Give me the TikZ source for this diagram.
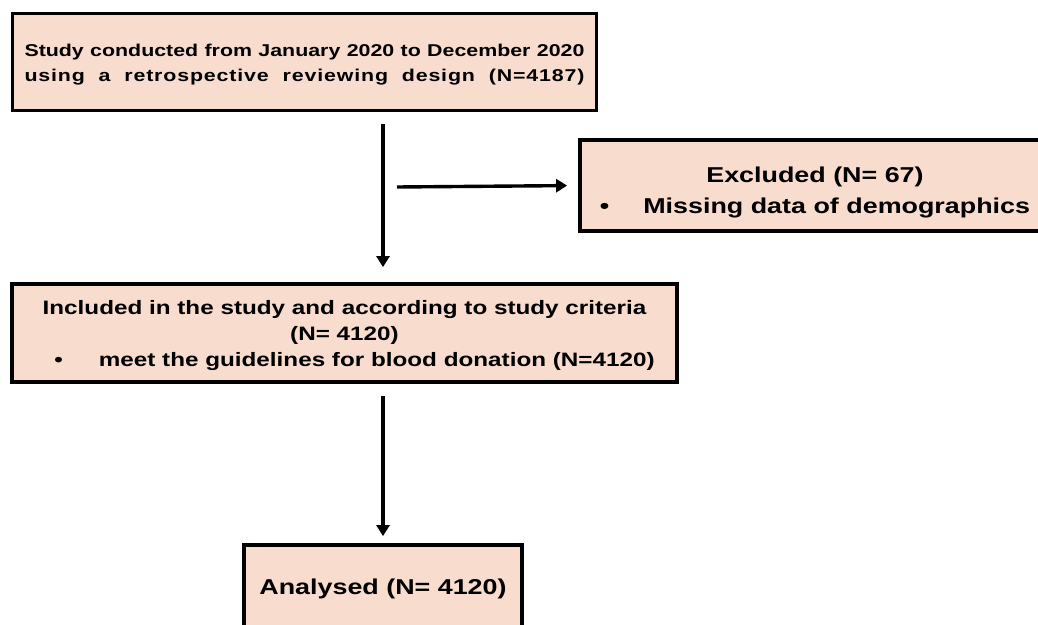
\documentclass[tikz,border=0pt]{standalone}
\usepackage{fontspec}
\setmainfont{Liberation Sans}[FakeStretch=1.25]
\usetikzlibrary{arrows.meta}
\definecolor{boxpeach}{RGB}{248,221,207}
% one line spread to the full width of the top box
\newcommand{\fullline}[1]{\makebox[560pt][s]{\spaceskip=0.28em plus 1fil\relax #1}}

\begin{document}
\begin{tikzpicture}[
    x=1pt, y=-1pt,
    font=\bfseries,
    >= {Triangle[length=11pt, width=13pt]},
    stagebox/.style={draw=black, fill=boxpeach, line width=3.8pt, inner sep=0pt},
    flowarrow/.style={->, line width=3.4pt},
    ]

    % ==========================================
    % Frame of the picture
    % ==========================================
    \useasboundingbox (0,0) rectangle (1038,624);
    \clip (0,0) rectangle (1038,624);
    \fill[white] (0,0) rectangle (1038,624);

    % ==========================================
    % Draw Stage Boxes
    % ==========================================
    \node[stagebox, minimum width=584pt, minimum height=97pt, text width=560pt, align=left,
          font=\fontsize{17.1}{25}\selectfont\bfseries] (study) at (304.5, 62)
        {\rule{0pt}{17pt}\fullline{Study conducted from January 2020 to December 2020}\\
         \fullline{\addfontfeature{LetterSpace=5}using a retrospective reviewing design (N=4187)}};

    \node[stagebox, minimum width=470pt, minimum height=91pt, align=center,
          font=\fontsize{21.5}{31}\selectfont\bfseries] (excluded) at (815, 185.5)
        {\rule{0pt}{30pt}Excluded (N= 67)\\\textbullet\hspace{34pt}Missing data of demographics};

    \node[stagebox, minimum width=665pt, minimum height=98pt, align=center,
          font=\fontsize{19.4}{26}\selectfont\bfseries] (included) at (344.5, 333)
        {\rule{0pt}{20pt}Included in the study and according to study criteria\\(N= 4120)\\\hspace*{20pt}\textbullet\hspace{36pt}meet the guidelines for blood donation (N=4120)};

    \node[stagebox, minimum width=278pt, minimum height=98pt,
          font=\fontsize{21.5}{26}\selectfont\bfseries] (analysed) at (383, 594)
        {\rule[-15pt]{0pt}{15pt}Analysed (N= 4120)};

    % ==========================================
    % Draw Arrows Between Boxes
    % ==========================================
    \draw[flowarrow, shorten <=12pt, shorten >=15pt] (study.south -| analysed.north) -- (included.north -| analysed.north);
    \coordinate (split) at (397, 187);
    \draw[flowarrow, shorten >=11pt] (split) -- (excluded.west);
    \draw[flowarrow, shorten <=12pt, shorten >=7pt] (included.south -| analysed.north) -- (analysed.north);

\end{tikzpicture}
\end{document}
